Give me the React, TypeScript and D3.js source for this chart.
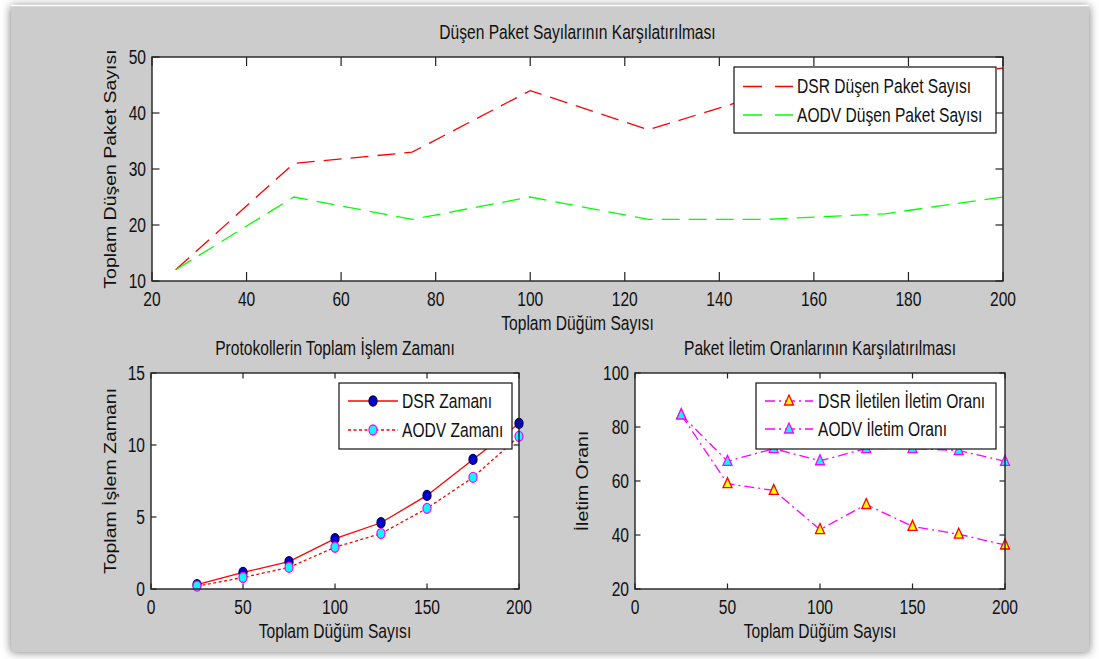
import React from 'react';
import * as d3 from 'd3';

// x values (Toplam Düğüm Sayısı)
const nodeCounts = [25, 50, 75, 100, 125, 150, 175, 200];

// top: dropped packets
const dsrDropped = [12, 31, 33, 44, 37, 43.5, 46, 48];
const aodvDropped = [12, 25, 21, 25, 21, 21, 22, 25];

// bottom left: processing time
const dsrTime = [0.3, 1.15, 1.9, 3.5, 4.6, 6.5, 9, 11.5];
const aodvTime = [0.2, 0.8, 1.5, 2.9, 3.85, 5.6, 7.75, 10.6];

// bottom right: delivery ratio
const dsrRatio = [84.5, 59, 56.5, 42, 51.3, 43.2, 40.3, 36.3];
const aodvRatio = [84.5, 67.3, 72, 67.5, 72, 72, 71.3, 67.3];

const topXTicks = [20, 40, 60, 80, 100, 120, 140, 160, 180, 200];
const topYTicks = [10, 20, 30, 40, 50];
const bottomXTicks = [0, 50, 100, 150, 200];
const timeYTicks = [0, 5, 10, 15];
const ratioYTicks = [20, 40, 60, 80, 100];

const FONT = "'Liberation Sans', Arial, sans-serif";
const FS = 19.5;
const SX = 0.8;

function Txt({ x, y, anchor = 'start', rot = false, children }: any) {
  const tr = rot
    ? `translate(${x},${y}) rotate(-90) scale(1,0.85)`
    : `translate(${x},${y}) scale(${SX},1)`;
  return (
    <text transform={tr} textAnchor={anchor} fontFamily={FONT} fontSize={FS} fill="#111">
      {children}
    </text>
  );
}

type Box = { l: number; r: number; t: number; b: number };

function Axes({ box, x, y, xTicks, yTicks, tick, title, xlabel, ylabel, ylabelX, children }: any) {
  const b: Box = box;
  const cx = (b.l + b.r) / 2;
  const cy = (b.t + b.b) / 2;
  return (
    <g>
      <rect x={b.l} y={b.t} width={b.r - b.l} height={b.b - b.t} fill="#fff" />
      {children}
      <g stroke="#222" strokeWidth={1.2}>
        {xTicks.map((v: number) => (
          <g key={'x' + v}>
            <line x1={x(v)} x2={x(v)} y1={b.b} y2={b.b - tick[0]} />
            <line x1={x(v)} x2={x(v)} y1={b.t} y2={b.t + tick[0]} />
          </g>
        ))}
        {yTicks.map((v: number) => (
          <g key={'y' + v}>
            <line x1={b.l} x2={b.l + tick[1]} y1={y(v)} y2={y(v)} />
            <line x1={b.r} x2={b.r - tick[1]} y1={y(v)} y2={y(v)} />
          </g>
        ))}
      </g>
      <rect x={b.l} y={b.t} width={b.r - b.l} height={b.b - b.t} fill="none" stroke="#222" strokeWidth={1.4} />
      {xTicks.map((v: number) => (
        <Txt key={'xl' + v} x={x(v)} y={b.b + 25} anchor="middle">{v}</Txt>
      ))}
      {yTicks.map((v: number) => (
        <Txt key={'yl' + v} x={b.l - 6} y={y(v) + 7} anchor="end">{v}</Txt>
      ))}
      <Txt x={cx} y={b.t - 18} anchor="middle">{title}</Txt>
      <Txt x={cx} y={b.b + 49} anchor="middle">{xlabel}</Txt>
      <Txt x={ylabelX} y={cy} anchor="middle" rot>{ylabel}</Txt>
    </g>
  );
}

const circle = (fill: string, stroke: string) => (p: [number, number], i: number) => (
  <ellipse key={i} cx={p[0]} cy={p[1]} rx={4} ry={5} fill={fill} stroke={stroke} strokeWidth={1.3} />
);
const tri = (fill: string, stroke: string) => (p: [number, number], i: number) => (
  <path key={i} d={`M${p[0]},${p[1] - 6}L${p[0] + 4.5},${p[1] + 4}L${p[0] - 4.5},${p[1] + 4}Z`} fill={fill} stroke={stroke} strokeWidth={1.3} />
);

export default function App() {
  const topBox = { l: 152, r: 1003, t: 57, b: 281 };
  const blBox = { l: 151, r: 519, t: 373, b: 589 };
  const brBox = { l: 635, r: 1005, t: 373, b: 589 };

  const xTop = d3.scaleLinear().domain([20, 200]).range([topBox.l, topBox.r]);
  const yTop = d3.scaleLinear().domain([10, 50]).range([topBox.b, topBox.t]);
  const xBl = d3.scaleLinear().domain([0, 200]).range([blBox.l, blBox.r]);
  const yBl = d3.scaleLinear().domain([0, 15]).range([blBox.b, blBox.t]);
  const xBr = d3.scaleLinear().domain([0, 200]).range([brBox.l, brBox.r]);
  const yBr = d3.scaleLinear().domain([20, 100]).range([brBox.b, brBox.t]);

  const pts = (xs: number[], ys: number[], sx: any, sy: any) =>
    xs.map((v, i) => [sx(v), sy(ys[i])] as [number, number]);
  const line = d3.line();

  const dsrDropP = pts(nodeCounts, dsrDropped, xTop, yTop);
  const aodvDropP = pts(nodeCounts, aodvDropped, xTop, yTop);
  const dsrTimeP = pts(nodeCounts, dsrTime, xBl, yBl);
  const aodvTimeP = pts(nodeCounts, aodvTime, xBl, yBl);
  const dsrRatioP = pts(nodeCounts, dsrRatio, xBr, yBr);
  const aodvRatioP = pts(nodeCounts, aodvRatio, xBr, yBr);

  return (
    <svg width={1099} height={659} style={{ position: 'absolute', left: 0, top: 0 }}>
      <defs>
        <filter id="sh" x="-5%" y="-5%" width="110%" height="110%">
          <feDropShadow dx={0} dy={0} stdDeviation={5} floodColor="#000" floodOpacity={0.55} />
        </filter>
      </defs>
      <rect width={1099} height={659} fill="#fff" />
      <rect x={11} y={6} width={1078} height={646} fill="#cccccc" filter="url(#sh)" />
      <line x1={11} x2={1089} y1={5.5} y2={5.5} stroke="#fff" strokeWidth={1.5} />

      <Axes box={topBox} x={xTop} y={yTop} xTicks={topXTicks} yTicks={topYTicks} tick={[9, 7.5]}
        title="Düşen Paket Sayılarının Karşılatırılması" xlabel="Toplam Düğüm Sayısı"
        ylabel="Toplam Düşen Paket Sayısı" ylabelX={116}>
        <path d={line(dsrDropP) || ''} fill="none" stroke="#ff0000" strokeWidth={1.3} strokeDasharray="18,9" />
        <path d={line(aodvDropP) || ''} fill="none" stroke="#00ff00" strokeWidth={1.3} strokeDasharray="18,9" />
      </Axes>
      <g>
        <rect x={734} y={67} width={262} height={66} fill="#fff" stroke="#111" strokeWidth={1.2} />
        <line x1={743} x2={793} y1={86.5} y2={86.5} stroke="#ff0000" strokeWidth={1.3} strokeDasharray="19,13" />
        <line x1={743} x2={793} y1={115} y2={115} stroke="#00ff00" strokeWidth={1.3} strokeDasharray="19,13" />
        <Txt x={797} y={93}>DSR Düşen Paket Sayısı</Txt>
        <Txt x={797} y={122}>AODV Düşen Paket Sayısı</Txt>
      </g>

      <Axes box={blBox} x={xBl} y={yBl} xTicks={bottomXTicks} yTicks={timeYTicks} tick={[5.5, 5.5]}
        title="Protokollerin Toplam İşlem Zamanı" xlabel="Toplam Düğüm Sayısı"
        ylabel="Toplam İşlem Zamanı" ylabelX={116}>
        <path d={line(dsrTimeP) || ''} fill="none" stroke="#ff0000" strokeWidth={1.3} />
        <path d={line(aodvTimeP) || ''} fill="none" stroke="#ff0000" strokeWidth={1.3} strokeDasharray="3,2.5" />
        {dsrTimeP.map(circle('#0000d0', '#000050'))}
        {aodvTimeP.map(circle('#00ffff', '#ff00ff'))}
      </Axes>
      <g>
        <rect x={339} y={383} width={173} height={66} fill="#fff" stroke="#111" strokeWidth={1.2} />
        <line x1={348} x2={398} y1={401} y2={401} stroke="#ff0000" strokeWidth={1.3} />
        <line x1={348} x2={398} y1={430} y2={430} stroke="#ff0000" strokeWidth={1.3} strokeDasharray="3,2.5" />
        {circle('#0000d0', '#000050')([373, 401], 0)}
        {circle('#00ffff', '#ff00ff')([373, 430], 1)}
        <Txt x={402} y={408}>DSR Zamanı</Txt>
        <Txt x={402} y={437}>AODV Zamanı</Txt>
      </g>

      <Axes box={brBox} x={xBr} y={yBr} xTicks={bottomXTicks} yTicks={ratioYTicks} tick={[5.5, 5.5]}
        title="Paket İletim Oranlarının Karşılatırılması" xlabel="Toplam Düğüm Sayısı"
        ylabel="İletim Oranı" ylabelX={588}>
        <path d={line(dsrRatioP) || ''} fill="none" stroke="#ff00ff" strokeWidth={1.3} strokeDasharray="10,4,2,4" />
        <path d={line(aodvRatioP) || ''} fill="none" stroke="#ff00ff" strokeWidth={1.3} strokeDasharray="10,4,2,4" />
        {dsrRatioP.map(tri('#ffff00', '#ff0000'))}
        {aodvRatioP.map(tri('#00ffff', '#ff00ff'))}
      </Axes>
      <g>
        <rect x={756} y={383} width={240} height={66} fill="#fff" stroke="#111" strokeWidth={1.2} />
        <line x1={765} x2={813} y1={401} y2={401} stroke="#ff00ff" strokeWidth={1.3} strokeDasharray="10,4,2,4" />
        <line x1={765} x2={813} y1={429} y2={429} stroke="#ff00ff" strokeWidth={1.3} strokeDasharray="10,4,2,4" />
        {tri('#ffff00', '#ff0000')([789, 401], 0)}
        {tri('#00ffff', '#ff00ff')([789, 429], 1)}
        <Txt x={818} y={408}>DSR İletilen İletim Oranı</Txt>
        <Txt x={818} y={436}>AODV İletim Oranı</Txt>
      </g>
    </svg>
  );
}
